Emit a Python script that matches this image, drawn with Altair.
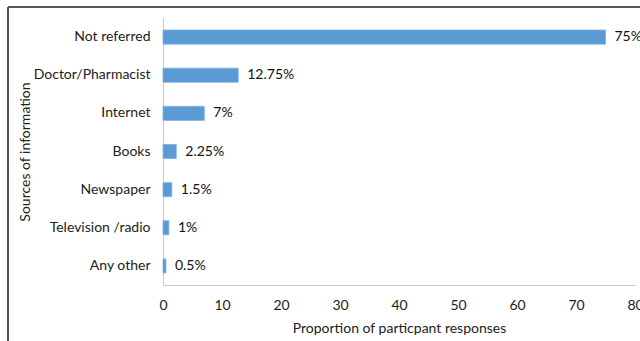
import altair as alt
import pandas as pd

categories = ["Not referred", "Doctor/Pharmacist", "Internet", "Books",
              "Newspaper", "Television /radio", "Any other"]
values = [75, 12.75, 7, 2.25, 1.5, 1, 0.5]
labels = ["75%", "12.75%", "7%", "2.25%", "1.5%", "1%", "0.5%"]
x_ticks = [0, 10, 20, 30, 40, 50, 60, 70, 80]

df = pd.DataFrame({"cat": categories, "val": values, "lab": labels})

FONT = "Lato"
FS = 14
W, H = 472, 267

y_enc = alt.Y("cat:N", sort=categories, title="Sources of information",
              scale=alt.Scale(paddingInner=0.63, paddingOuter=0.315),
              axis=alt.Axis(labelFontSize=FS, labelColor="#222", labelFont=FONT,
                            labelPadding=13, ticks=False, domainColor="#c8c8c8",
                            titleFont=FONT, titleFontSize=FS, titleFontWeight="normal",
                            titleColor="#222", titleX=-138, titleBaseline="middle"))
x_enc = alt.X("val:Q", title="Proportion of particpant responses",
              scale=alt.Scale(domain=[0, 80], nice=False),
              axis=alt.Axis(values=x_ticks, grid=False, ticks=False, labelFont=FONT,
                            labelFontSize=FS, labelColor="#222", labelPadding=13,
                            labelFlush=False,
                            domainColor="#c8c8c8", titleFont=FONT, titleFontSize=FS,
                            titleFontWeight="normal", titleColor="#222", titlePadding=9))

bars = alt.Chart(df).mark_bar(color="#5b9bd5", stroke="#7fb3e0", strokeWidth=0.8).encode(
    x=x_enc, y=y_enc)
text = alt.Chart(df).mark_text(align="left", dx=9, font=FONT, fontSize=FS,
                               color="#111").encode(
    x="val:Q", y=alt.Y("cat:N", sort=categories), text="lab:N")

frame_left = alt.Chart(df).mark_rule(color="#555", strokeWidth=1).encode(
    x=alt.value(-155), y=alt.value(-11), y2=alt.value(H + 80))
frame_top = alt.Chart(df).mark_rule(color="#555", strokeWidth=1).encode(
    x=alt.value(-155), x2=alt.value(W + 40), y=alt.value(-11))

chart = alt.layer(bars, text, frame_left, frame_top).properties(
    width=W, height=H,
    padding={"left": 163, "top": 18, "right": 5, "bottom": 56},
    autosize=alt.AutoSizeParams(type="none"),
).configure_view(stroke=None)

chart.save("out.html", embed_options={"renderer": "svg", "actions": False})
